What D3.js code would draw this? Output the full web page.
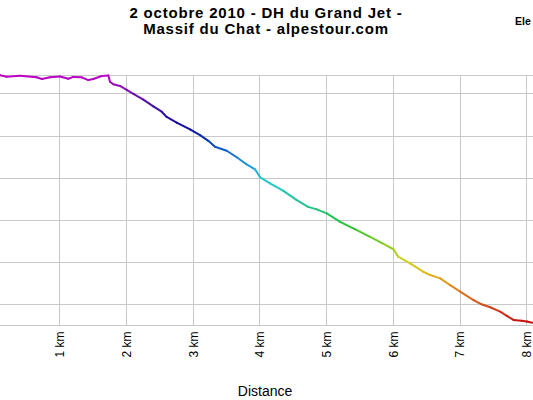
<!DOCTYPE html>
<html>
<head>
<meta charset="utf-8">
<script src="https://cdn.jsdelivr.net/npm/d3@7"></script>
<style>
html, body { margin: 0; padding: 0; background: #fff; overflow: hidden; }
svg { display: block; }
</style>
</head>
<body>
<svg id="chart" width="533" height="400"></svg>
<script>
// ---- data ----
const titleLines = ["2 octobre 2010 - DH du Grand Jet -", "Massif du Chat - alpestour.com"];
const legendLabel = "Ele";
const xAxisTitle = "Distance";
const distanceKm = [0, 0.11, 0.21, 0.41, 0.66, 0.74, 0.86, 1.01, 1.135, 1.21, 1.336, 1.435, 1.51, 1.636, 1.735,
  1.76, 1.81, 1.91, 2.01, 2.11, 2.26, 2.41, 2.535, 2.61, 2.76, 2.96, 3.11, 3.234, 3.334, 3.51, 3.66, 3.81, 3.934,
  4.01, 4.16, 4.36, 4.56, 4.73, 4.86, 5.01, 5.21, 5.46, 5.66, 5.86, 6.01, 6.08, 6.26, 6.46, 6.56, 6.71, 6.86,
  7.01, 7.21, 7.33, 7.46, 7.61, 7.71, 7.81, 7.93, 8.01, 8.09];
const elevationM = [1484, 1486, 1479, 1483, 1476, 1468, 1476, 1480, 1469, 1478, 1476, 1463, 1468, 1482, 1485,
  1455, 1443, 1435, 1416, 1398, 1370, 1338, 1313, 1288, 1261, 1229, 1202, 1175, 1147, 1128, 1097, 1063, 1040,
  1002, 973, 938, 894, 862, 850, 831, 791, 752, 720, 686, 661, 626, 594, 554, 539, 523, 491,
  460, 420, 400, 386, 365, 345, 326, 322, 318, 313];
const xTickValues = [1, 2, 3, 4, 5, 6, 7, 8];
const xTickLabels = ["1 km", "2 km", "3 km", "4 km", "5 km", "6 km", "7 km", "8 km"];
const yGridValues = [400, 600, 800, 1000, 1200, 1400];
const xDomain = [0, 8.25];
const yDomain = [300, 1487];

// ---- style ----
const colorElev = [313, 390, 460, 530, 600, 680, 780, 880, 980, 1040, 1130, 1230, 1340, 1435, 1487];
const colorStops = ["#c81010", "#d24a1c", "#e07a20", "#e0ae20", "#d4d41e", "#8ccc20", "#22c238", "#22c49a",
  "#22ccc8", "#20a8d8", "#1060c8", "#0c0c9c", "#4412a4", "#9410b8", "#c400c8"];
const gridColor = "#c8c8c8";
const font = "'Liberation Sans', Arial, sans-serif";

// ---- layout ----
const plot = { left: -7.4, top: 75, bottom: 325.4 };
const pxPerKm = 66.7;

const svg = d3.select("#chart");
const x = d3.scaleLinear().domain(xDomain).range([plot.left, plot.left + (xDomain[1] - xDomain[0]) * pxPerKm]);
const y = d3.scaleLinear().domain(yDomain).range([plot.bottom, plot.top]);
const color = d3.scaleLinear().domain(colorElev).range(colorStops).clamp(true);

const xMax = x.range()[1];

// horizontal grid
svg.append("g").selectAll("line").data(yGridValues).join("line")
  .attr("x1", x.range()[0]).attr("x2", xMax)
  .attr("y1", d => Math.round(y(d)) + 0.5).attr("y2", d => Math.round(y(d)) + 0.5)
  .attr("stroke", gridColor).attr("stroke-width", 1);

// plot top border
svg.append("line").attr("x1", x.range()[0]).attr("x2", xMax)
  .attr("y1", Math.round(y(yDomain[1])) + 0.5).attr("y2", Math.round(y(yDomain[1])) + 0.5)
  .attr("stroke", gridColor);

// vertical grid
svg.append("g").selectAll("line").data(xTickValues).join("line")
  .attr("x1", d => Math.round(x(d)) + 0.5).attr("x2", d => Math.round(x(d)) + 0.5)
  .attr("y1", y(yDomain[1])).attr("y2", y(yDomain[0]))
  .attr("stroke", gridColor).attr("stroke-width", 1);

// x axis
const xAxis = d3.axisBottom(x).tickValues(xTickValues).tickFormat((d, i) => xTickLabels[i]).tickSize(0);
const gx = svg.append("g").attr("transform", `translate(0,${Math.round(plot.bottom) + 0.5})`).call(xAxis);
gx.select(".domain").attr("stroke", gridColor).attr("d", `M${x.range()[0]},0H${xMax}`);
gx.selectAll(".tick text")
  .attr("font-family", font).attr("font-size", 12).attr("fill", "#000")
  .attr("transform", "rotate(-90)")
  .attr("text-anchor", "end")
  .attr("x", -6).attr("y", 0).attr("dy", "0.36em");

// elevation profile, coloured by elevation
const pts = distanceKm.map((d, i) => [d, elevationM[i]]);
const seg = d3.line().x(d => x(d[0])).y(d => y(d[1]));
svg.append("g").selectAll("path").data(d3.pairs(pts)).join("path")
  .attr("d", d => seg(d))
  .attr("fill", "none")
  .attr("stroke", d => color((d[0][1] + d[1][1]) / 2))
  .attr("stroke-width", 2)
  .attr("stroke-linecap", "round");

// title
svg.append("g").selectAll("text").data(titleLines).join("text")
  .attr("x", 266).attr("y", (d, i) => 17.5 + i * 16.5)
  .attr("text-anchor", "middle")
  .attr("font-family", font).attr("font-weight", "bold").attr("font-size", 15)
  .attr("letter-spacing", "0.8px")
  .text(d => d);

// legend label (only the visible part at the right edge)
svg.append("text").attr("x", 515).attr("y", 25)
  .attr("font-family", font).attr("font-weight", "bold").attr("font-size", 10.5)
  .text(legendLabel);

// x axis title
svg.append("text").attr("x", 265).attr("y", 396)
  .attr("text-anchor", "middle")
  .attr("font-family", font).attr("font-size", 14)
  .text(xAxisTitle);
</script>
</body>
</html>
